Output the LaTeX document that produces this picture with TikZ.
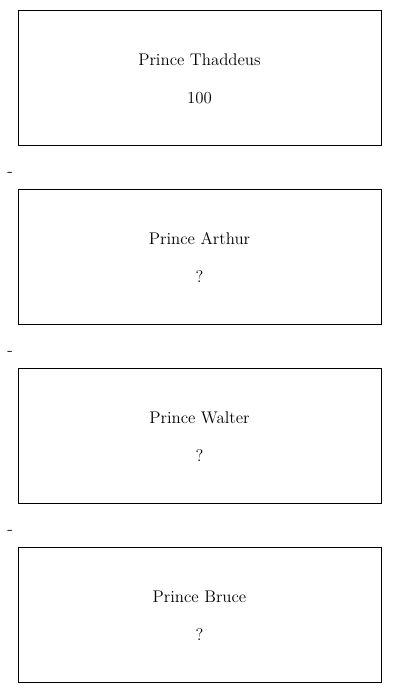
\documentclass[tikz,border=0pt]{standalone}
\usepackage{tikz}
\usetikzlibrary{shapes,arrows,calc}
\usetikzlibrary{positioning}

\begin{document}
\begin{tikzpicture}[scale=1]
	\tikzset{prince/.style={rectangle, draw, semithick, minimum width=9.075cm, minimum height=3.375cm, font=\large, align=center, inner sep=0mm}};
	\tikzset{empty/.style={rectangle, inner sep=0mm, font=\large}};
	\useasboundingbox (0cm, 0cm) rectangle (10cm, -17.325cm);
	% Place nodes
	\node [prince] (thaddeus) at (4.9875cm, -1.96cm) {Prince Thaddeus\\[13pt]100};
	\node [empty] (sepa) at (0.25cm, -4.35cm) {-};
	\node [prince] (arthur) at (4.9875cm, -6.435cm) {Prince Arthur\\[13pt]?};
	\node [empty] (sepb) at (0.25cm, -8.825cm) {-};
	\node [prince] (walter) at (4.9875cm, -10.91cm) {Prince Walter\\[13pt]?};
	\node [empty] (sepc) at (0.25cm, -13.3cm) {-};
	\node [prince] (bruce) at (4.9875cm, -15.385cm) {Prince Bruce\\[13pt]?};
\end{tikzpicture}
\end{document}
